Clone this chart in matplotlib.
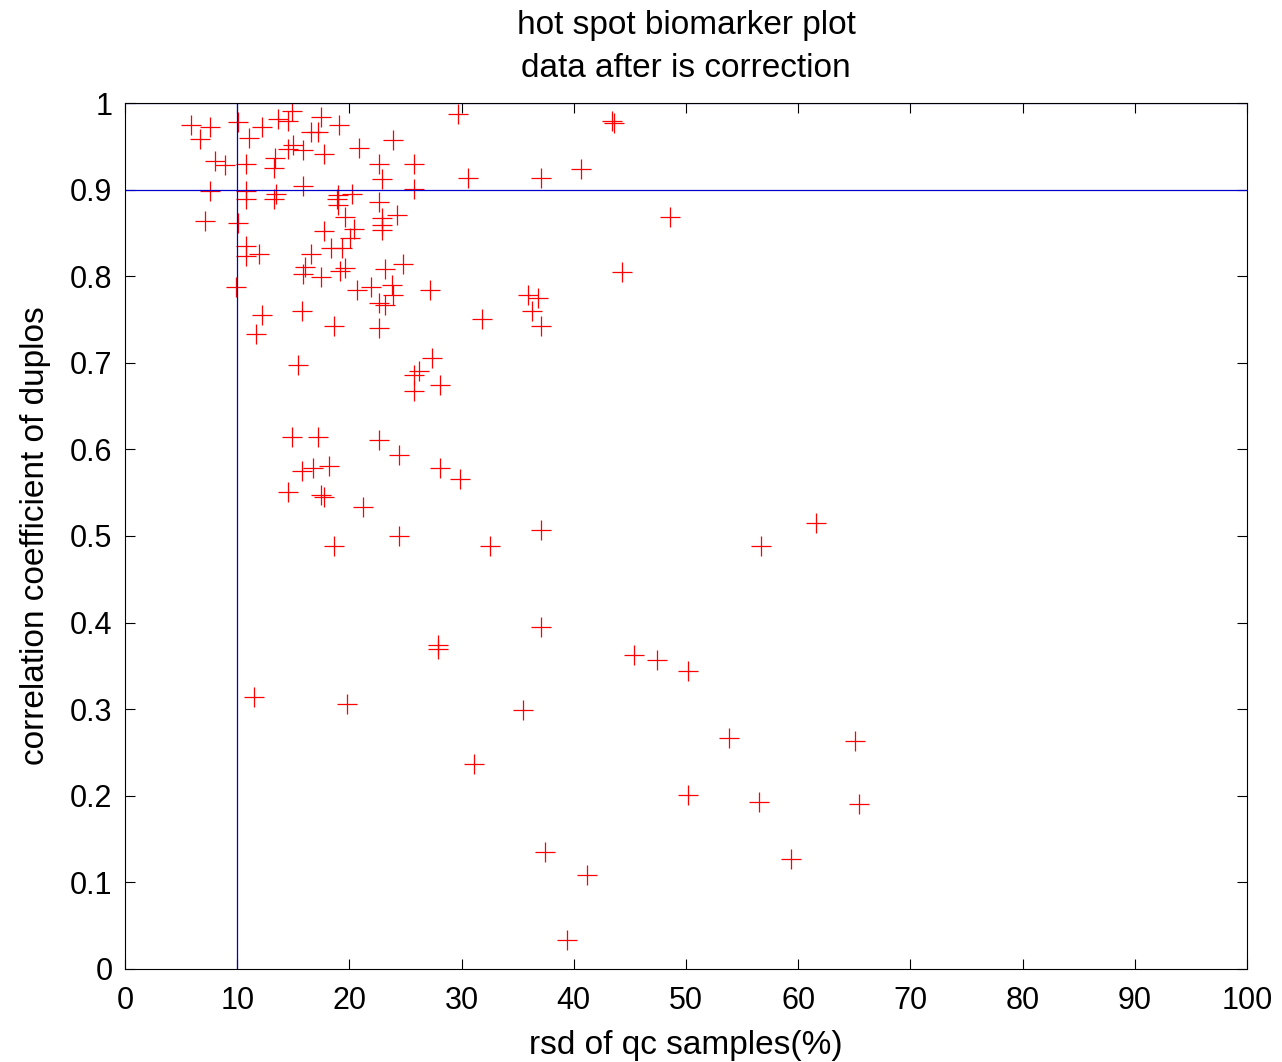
import matplotlib
matplotlib.use("Agg")
import matplotlib.pyplot as plt

# rsd of qc samples (%) and correlation coefficient of duplos, per peak
rsd = [5.9, 7.6, 6.7, 10.1, 12.2, 11.05, 13.6, 14.5, 14.9, 17.5,
       19.1, 16.6, 17.2, 15.0, 14.5, 15.9, 17.7, 20.9, 23.9, 13.4,
       13.3, 8.0, 8.9, 10.8, 22.6, 25.8, 22.9, 7.6, 10.8, 10.8,
       13.5, 13.3, 15.9, 19.0, 18.9, 19.0, 20.2, 25.8, 22.6, 7.1,
       10.1, 19.6, 22.9, 22.9, 22.9, 24.2, 20.4, 17.7, 20.05, 19.3,
       18.4, 16.55, 10.8, 11.9, 10.8, 16.0, 15.9, 17.5, 19.6, 19.2,
       23.2, 24.8, 20.7, 21.9, 23.8, 23.9, 27.2, 22.6, 23.2, 9.9,
       12.2, 15.8, 11.7, 18.6, 22.6,
       15.4, 27.4, 26.2, 25.8, 25.8, 28.1, 14.9, 17.2, 22.6, 24.4,
       28.1, 16.8, 15.8, 18.2, 14.5, 17.5, 17.7, 21.2, 24.4, 18.6,
       29.7, 43.4, 43.6, 40.6, 30.6, 37.1, 48.6, 44.3, 35.9, 36.8,
       36.3, 37.1, 31.8,
       11.5, 19.8, 27.9, 27.9, 31.1, 35.5,
       32.5, 37.1, 37.1, 37.4, 41.2, 39.4, 45.4, 47.4, 50.2, 50.2,
       53.8, 56.5, 56.7, 61.6, 59.4, 65.1, 65.4, 29.9]
corr = [0.975, 0.972, 0.958, 0.978, 0.972, 0.960, 0.981, 0.979, 0.991, 0.984,
        0.975, 0.966, 0.966, 0.952, 0.947, 0.946, 0.941, 0.948, 0.957, 0.936,
        0.925, 0.933, 0.928, 0.930, 0.930, 0.930, 0.912, 0.898, 0.898, 0.889,
        0.895, 0.889, 0.904, 0.894, 0.889, 0.882, 0.895, 0.901, 0.886, 0.864,
        0.862, 0.868, 0.867, 0.859, 0.853, 0.871, 0.855, 0.852, 0.844, 0.832,
        0.832, 0.826, 0.835, 0.826, 0.823, 0.811, 0.802, 0.799, 0.810, 0.806,
        0.808, 0.814, 0.784, 0.787, 0.790, 0.778, 0.784, 0.769, 0.767, 0.787,
        0.755, 0.760, 0.733, 0.742, 0.740,
        0.697, 0.706, 0.691, 0.686, 0.668, 0.674, 0.614, 0.614, 0.611, 0.593,
        0.578, 0.578, 0.575, 0.581, 0.551, 0.547, 0.545, 0.533, 0.500, 0.488,
        0.987, 0.979, 0.977, 0.924, 0.913, 0.913, 0.868, 0.805, 0.778, 0.775,
        0.760, 0.742, 0.751,
        0.314, 0.306, 0.374, 0.369, 0.237, 0.299,
        0.488, 0.507, 0.395, 0.135, 0.109, 0.033, 0.363, 0.357, 0.344, 0.201,
        0.267, 0.193, 0.488, 0.515, 0.127, 0.263, 0.191, 0.566]

rsd_cut = 10
corr_cut = [0.9, 1.0]

plt.rcParams["font.family"] = ["Liberation Sans", "DejaVu Sans"]

fig = plt.figure(figsize=(12.82, 10.62), dpi=100)
ax = fig.add_axes([0.0975, 0.0876, 0.8752, 0.8154])

ax.plot(rsd, corr, "+", color="red", markersize=15, markeredgewidth=0.9)
ax.axvline(rsd_cut, color="#0000cc", linewidth=0.9)
for c in corr_cut:
    ax.axhline(c, color="#0000cc", linewidth=0.9)

ax.set_xlim(0, 100)
ax.set_ylim(0, 1)
ax.set_xticks(range(0, 101, 10))
ax.set_yticks([i / 10 for i in range(11)])
ax.set_yticklabels(["0"] + [f"{i / 10:.1f}" for i in range(1, 10)] + ["1"])
ax.tick_params(direction="in", top=True, right=True, labelsize=22,
               length=7, width=0.8, pad=9)
ax.tick_params(axis="x", pad=12)
for s in ax.spines.values():
    s.set_linewidth(0.8)

ax.set_xlabel("rsd of qc samples(%)", fontsize=24, labelpad=10)
ax.set_ylabel("correlation coefficient of duplos", fontsize=24, labelpad=14)
ax.set_title("hot spot biomarker plot\ndata after is correction",
             fontsize=24, pad=19, linespacing=1.5)

fig.savefig("out.png", dpi=100)
